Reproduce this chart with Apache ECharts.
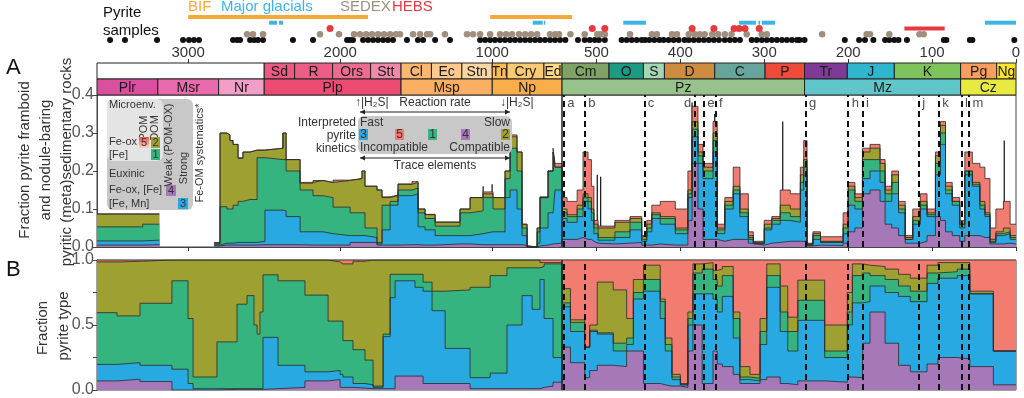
<!DOCTYPE html>
<html>
<head>
<meta charset="utf-8">
<script src="https://cdn.jsdelivr.net/npm/echarts@6/dist/echarts.min.js"></script>
<style>
html, body { margin: 0; padding: 0; background: #fff; }
#chart { width: 1024px; height: 398px; }
</style>
</head>
<body>
<div id="chart"></div>
<script>
// age axis: Precambrian and Phanerozoic are drawn at different scales
var OLDEST = 3600, BREAK = 541;
var PC_SCALE = 0.152, PZ_SCALE = 0.839;
function toX(age) {
    if (age >= BREAK) return (OLDEST - age) * PC_SCALE;
    return (OLDEST - BREAK) * PC_SCALE + (BREAK - age) * PZ_SCALE;
}
function toAge(u) {
    var ub = (OLDEST - BREAK) * PC_SCALE;
    if (u <= ub) return OLDEST - u / PC_SCALE;
    return BREAK - (u - ub) / PZ_SCALE;
}
var X_MAX = toX(0);
var FONT = '"Liberation Sans", Arial, Helvetica, sans-serif';

// tick labels (Ma)
var tickAges = [3000, 2000, 1000, 500, 400, 300, 200, 100, 0];

// geologic time scale
var periodNames = ['', 'Sd', 'R', 'Ors', 'Stt', 'Cl', 'Ec', 'Stn', 'Tn', 'Cry', 'Ed', 'Cm', 'O', 'S', 'D', 'C', 'P', 'Tr', 'J', 'K', 'Pg', 'Ng'];
var periodStart = [3600, 2500, 2300, 2050, 1800, 1600, 1400, 1200, 1000, 903, 660, 541, 485, 444, 419, 359, 299, 252, 201, 145, 66, 23];
var periodEnd = [2500, 2300, 2050, 1800, 1600, 1400, 1200, 1000, 903, 660, 541, 485, 444, 419, 359, 299, 252, 201, 145, 66, 23, 0];
var eraNames = ['Plr', 'Msr', 'Nr', 'Plp', 'Msp', 'Np', 'Pz', 'Mz', 'Cz'];
var eraStart = [3600, 3200, 2800, 2500, 1600, 1000, 541, 252, 66];
var eraEnd = [3200, 2800, 2500, 1600, 1000, 541, 252, 66, 0];

// pyrite samples and deposit records (Ma)
var sampleRows = ['BIF', 'Glacial', 'HEBS', 'SEDEX', 'Pyrite'];
var pyriteSamples = [3514, 3416, 3205, 3034, 2995, 2962, 2929, 2705, 2679, 2659, 2593, 2567, 2541, 2508, 2311, 2179,
    1955, 1936, 1916, 1850, 1817, 1784, 1751, 1718, 1686, 1653, 1561, 1489, 1455, 1376, 1278, 1080, 1047, 1014,
    982, 949, 916, 883, 850, 817, 784, 751, 718, 686, 653, 620, 587, 554,
    537, 522, 514, 508, 502, 497, 490, 470, 464, 458, 452, 446, 442, 437, 431, 425, 420, 414, 408, 402, 395, 390,
    384, 378, 372, 366, 360, 354, 347, 341, 335, 329, 315, 309, 303, 297, 291, 285, 279, 273, 267, 261, 258, 252,
    204, 187, 180, 170, 156, 151, 145, 140, 130, 86, 83, 55, 52, 2];
var sedexSamples = [2613, 2574, 2508, 2133, 2008, 1909, 1870, 1830, 1791, 1751, 1712, 1672, 1633, 1607, 1521, 1475,
    1429, 1409, 1311, 1166, 1126, 1080, 1014, 949, 909, 870, 824, 784, 745, 705, 620, 587, 561, 531, 514, 499, 495,
    490, 460, 434, 428, 410, 404, 390, 383, 377, 371, 362, 355, 347, 339, 321, 303, 297, 231, 178, 174, 151, 115, 110];
var hebsSamples = [2067, 505, 490, 386, 360, 336, 330, 323, 306];
var bifStart = [3000, 1014], bifEnd = [1817, 529];
var glacialStart = [2468, 2403, 734, 661, 468, 330, 307, 303, 37];
var glacialEnd = [2416, 2376, 668, 651, 441, 310, 305, 287, 0];
var hebsStart = [133], hebsEnd = [85];

// events
var eventNames = ['a', 'b', 'c', 'd', 'e', 'f', 'g', 'h', 'i', 'j', 'k', 'l', 'm'];
var eventAges = [539, 514, 443, 383, 372, 358, 251, 200, 183, 116, 92, 65, 56];

// panel A: top of each stacked layer (fraction of rocks); null = no data
var aAge = [3600, 3300, 3190, 3189, 2830, 2791, 2745, 2725, 2705, 2672,
    2640, 2593, 2547, 2495, 2376, 2356, 2264, 2179, 2113, 2047,
    1935, 1857, 1837, 1758, 1725, 1672, 1620, 1528, 1488, 1442,
    1376, 1212, 1146, 1060, 995, 916, 883, 837, 804, 771,
    705, 686, 633, 600, 587, 541, 535, 523, 516, 510,
    506, 503, 498, 478, 460, 446, 440, 434, 424, 406,
    391, 386, 379, 373, 361, 356, 347, 337, 329, 319,
    313, 300, 291, 281, 269, 257, 253, 249, 242, 233,
    206, 200, 192, 183, 174, 162, 156, 148, 140, 132,
    123, 114, 106, 96, 90, 84, 76, 67, 61, 52,
    43, 37, 31, 24, 15, 7, 0];
var aRed = [.087, .087, .087, null, .012, .300, .295, .280, .270, .235,
    .250, .255, .255, .260, .300, .230, .170, .175, .170, .176,
    .180, .200, .160, .150, .132, .137, .166, .172, .100, .086,
    .066, .100, .130, .145, .130, .200, .295, .250, .060, 0,
    .050, .132, .200, .260, .220, .130, .120, .150, .250, .230,
    .160, .070, .055, .070, .080, .030, .070, .110, .120, .100,
    .200, .370, .270, .220, .330, .060, .130, .210, .140, .040,
    .015, .070, .080, .150, .140, .210, .280, .010, .040, .027,
    .090, .170, .140, .260, .270, .230, .160, .200, .120, .030,
    .100, .140, .100, .250, .330, .170, .130, .070, .250, .220,
    .210, .180, .050, .100, .120, .060, .060];
var aOlive = [.087, .087, .087, null, .010, .300, .295, .280, .270, .233,
    .250, .255, .255, .260, .300, .230, .168, .175, .170, .175,
    .180, .200, .160, .150, .130, .135, .165, .170, .100, .085,
    .065, .100, .130, .140, .130, .200, .290, .250, .060, 0,
    .050, .130, .200, .250, .210, .100, .085, .110, .140, .130,
    .100, .060, .050, .065, .075, .027, .060, .090, .080, .050,
    .150, .330, .250, .210, .300, .050, .120, .160, .100, .030,
    .012, .060, .075, .110, .100, .190, .230, .008, .035, .015,
    .060, .160, .130, .250, .260, .220, .150, .190, .110, .025,
    .080, .120, .090, .240, .320, .160, .120, .060, .200, .170,
    .120, .090, .020, .040, .050, .030, .030];
var aGreen = [.053, .060, .060, null, .008, .106, .100, .100, .110, .120,
    .125, .125, .235, .230, .230, .200, .150, .135, .130, .105,
    .090, .090, .050, .012, .110, .120, .150, .155, .090, .075,
    .055, .090, .095, .130, .100, .180, .260, .200, .050, 0,
    .040, .130, .200, .250, .210, .090, .080, .100, .130, .120,
    .090, .050, .025, .040, .065, .020, .050, .085, .075, .045,
    .140, .310, .240, .200, .280, .045, .110, .150, .090, .025,
    .010, .050, .070, .090, .080, .170, .210, .006, .030, .013,
    .050, .150, .120, .230, .230, .200, .140, .170, .100, .020,
    .070, .110, .085, .220, .300, .150, .120, .060, .200, .165,
    .110, .085, .015, .035, .040, .025, .025];
var aBlue = [.016, .018, .018, null, .005, .010, .010, .010, .012, .012,
    .012, .012, .015, .097, .095, .080, .040, .040, .035, .030,
    .030, .030, .025, .008, .045, .110, .135, .140, .053, .045,
    .030, .030, .035, .040, .040, .130, .150, .100, .030, 0,
    .010, .050, .090, .090, .150, .075, .065, .080, .120, .100,
    .070, .035, .018, .025, .045, .015, .040, .075, .060, .035,
    .130, .290, .220, .180, .250, .035, .100, .140, .080, .020,
    .008, .045, .060, .070, .065, .150, .190, .005, .020, .012,
    .035, .110, .100, .180, .200, .170, .120, .140, .090, .020,
    .060, .100, .080, .190, .270, .140, .110, .050, .190, .160,
    .100, .080, .012, .030, .035, .020, .020];
var aPurple = [.005, .006, .006, null, .003, .005, .005, .005, .005, .005,
    .005, .005, .006, .006, .006, .006, .005, .005, .005, .005,
    .012, .012, .012, .005, .005, .005, .006, .006, .005, .005,
    .008, .008, .006, .006, .006, .006, .006, .006, .004, 0,
    .003, .005, .008, .008, .010, .020, .020, .025, .020, .020,
    .015, .010, .008, .010, .012, .005, .005, .008, .005, .005,
    .070, .220, .100, .020, .020, .015, .020, .020, .020, .010,
    .005, .010, .012, .015, .015, .015, .015, .003, .005, .004,
    .010, .040, .050, .140, .150, .120, .060, .050, .030, .010,
    .010, .015, .030, .080, .070, .040, .030, .015, .030, .030,
    .025, .025, .008, .008, .010, .008, .008];

// single-sample spikes in panel A
var spikeAges = [2376, 1060, 1001, 499, 495, 386, 359, 278, 14];
var spikeVals = [.30, .16, .165, .19, .185, .38, .35, .33, .28];

// panel B: top of each stacked layer (fraction of pyrite type)
var bAge = [3600, 3468, 3317, 3107, 3001, 2968, 2811, 2679, 2613, 2567,
    2547, 2528, 2508, 2409, 2232, 2080, 2001, 1982, 1916, 1837,
    1784, 1718, 1672, 1639, 1508, 1455, 1396, 1310, 1146, 1014,
    903, 804, 738, 686, 659, 600, 541, 531, 514, 508,
    499, 480, 464, 456, 444, 424, 418, 410, 400, 391,
    385, 374, 361, 356, 350, 337, 329, 317, 305, 297,
    281, 272, 260, 228, 201, 195, 183, 174, 156, 140,
    126, 106, 93, 70, 55, 27, 0];
var bRed = [1, 1, 1, 1, 1, 1, 1, 1, 1, 1,
    1, 1, 1, 1, 1, 1, 1, 1, 1, 1,
    1, 1, 1, 1, 1, 1, 1, 1, 1, 1,
    1, 1, 1, 1, 1, 1, 1, 1, 1, 1,
    1, 1, 1, 1, 1, 1, 1, 1, 1, 1,
    1, 1, 1, 1, 1, 1, 1, 1, 1, 1,
    1, 1, 1, 1, 1, 1, 1, 1, 1, 1,
    1, 1, 1, 1, 1, 1, 1];
var bOlive = [.985, .990, 1, 1, 1, 1, 1, 1, 1, 1,
    1, 1, 1, 1, 1, .985, .970, .970, .990, 1,
    1, 1, 1, 1, 1, 1, 1, 1, 1, 1,
    1, 1, 1, .980, .980, .980, .780, .540, .330, .500,
    .830, .770, .550, .850, .960, .700, .400, .120, .050, .600,
    .970, .980, .920, .930, .950, .600, .180, .120, .550, .970,
    .800, .560, .845, .500, .750, .970, .960, .950, .930, .890,
    .860, .960, .980, .980, .760, .300, .300];
var bGreen = [.595, .570, .667, .840, .550, .100, .370, .660, .726, .500,
    .430, .600, .886, .840, .730, .530, .530, .380, .310, .230,
    .030, .430, .890, .890, .890, .830, .760, .770, .790, .880,
    .940, .940, .940, .950, .970, .970, .670, .520, .330, .460,
    .440, .360, .400, .750, .850, .680, .350, .100, .040, .550,
    .900, .930, .850, .800, .880, .550, .100, .090, .450, .880,
    .600, .450, .690, .300, .600, .880, .900, .880, .850, .800,
    .760, .900, .910, .930, .740, .300, .300];
var bBlue = [.197, .210, .190, .160, .050, .010, .010, .010, .010, .010,
    .010, .010, .405, .190, .140, .150, .120, .100, .050, .040,
    .020, .410, .710, .840, .790, .760, .610, .320, .095, .130,
    .500, .726, .620, .850, .550, .250, .640, .450, .330, .450,
    .430, .300, .350, .700, .760, .550, .300, .080, .040, .500,
    .740, .740, .700, .600, .720, .400, .080, .070, .350, .790,
    .450, .300, .536, .250, .500, .670, .680, .800, .750, .720,
    .680, .820, .860, .880, .740, .300, .300];
var bPurple = [.070, .083, .065, 0, 0, 0, .005, .005, .005, .005,
    .005, .005, .010, .020, .070, .080, .020, .020, .015, .010,
    .010, .010, .010, .107, .107, .050, .050, .050, .010, .010,
    .010, .010, .010, .020, .030, .060, .330, .210, .095, .150,
    .190, .180, .300, .300, .050, .040, .030, .030, .020, .300,
    .500, .050, .300, .200, .180, .120, .050, .050, .080, .100,
    .050, .040, .070, .060, .100, .095, .360, .600, .360, .190,
    .140, .200, .250, .240, .180, .040, .040];

// colours
var C_PURPLE = '#A678B8', C_BLUE = '#29A9E1', C_GREEN = '#36B47F', C_OLIVE = '#9FA032', C_RED = '#F27C6F';
var scaleColors = {
    '': '#ffffff', Sd: '#EA5A83', R: '#EB5F86', Ors: '#ED6B8F', Stt: '#F08AAA',
    Cl: '#FDB66E', Ec: '#FDC98E', Stn: '#FDD7A3', Tn: '#FDBA58', Cry: '#FDC973', Ed: '#FDD982',
    Cm: '#7FA364', O: '#1D9A83', S: '#A4D7B4', D: '#CD8C40', C: '#67A59A', P: '#EF4A3A',
    Tr: '#7F3A97', J: '#2FB5CE', K: '#7FC35D', Pg: '#FA9E5F', Ng: '#FFE52A',
    Plr: '#DA4F9E', Msr: '#EA6AAE', Nr: '#F29EC6', Plp: '#EC4B74', Msp: '#FBAF62', Np: '#FAAD4B',
    Pz: '#97C28C', Mz: '#5FC6CA', Cz: '#E9EA41'
};

// ---------- series builders ----------
function areaSeries(name, ages, vals, color, idx, extra) {
    var data = [];
    for (var i = 0; i < ages.length; i++) {
        data.push([toX(ages[i]), vals[i]]);
    }
    var s = {
        name: name, type: 'line', xAxisIndex: idx, yAxisIndex: idx, step: 'end',
        symbol: 'none', connectNulls: false, data: data,
        lineStyle: { color: '#2a2a2a', width: 0.8 },
        areaStyle: { color: color, opacity: 1 }
    };
    if (extra) s.markLine = extra;
    return s;
}

function scaleSeries(names, starts, ends, row) {
    var data = [];
    for (var i = 0; i < names.length; i++) data.push([toX(starts[i]), toX(ends[i]), row]);
    return {
        type: 'custom', xAxisIndex: 1, yAxisIndex: 1, data: data, silent: true,
        encode: { x: [0, 1], y: 2 },
        renderItem: function(params, api) {
            var p0 = api.coord([api.value(0), row]);
            var p1 = api.coord([api.value(1), row + 1]);
            var nm = names[params.dataIndex];
            return {
                type: 'group',
                children: [{
                    type: 'rect',
                    shape: { x: p0[0], y: p0[1], width: p1[0] - p0[0], height: p1[1] - p0[1] },
                    style: { fill: scaleColors[nm], stroke: '#222', lineWidth: 1 }
                }, {
                    type: 'text',
                    style: {
                        text: nm, x: (p0[0] + p1[0]) / 2, y: (p0[1] + p1[1]) / 2 + 1,
                        align: 'center', verticalAlign: 'middle',
                        fontSize: 14, fontFamily: FONT, fill: '#1a1a1a'
                    }
                }]
            };
        }
    };
}

function intervalSeries(starts, ends, row, color) {
    var data = [];
    for (var i = 0; i < starts.length; i++) data.push([toX(starts[i]), toX(ends[i]), row]);
    return {
        type: 'custom', xAxisIndex: 0, yAxisIndex: 0, data: data, silent: true,
        encode: { x: [0, 1] },
        renderItem: function(params, api) {
            var p0 = api.coord([api.value(0), row]);
            var p1 = api.coord([api.value(1), row]);
            return {
                type: 'rect',
                shape: { x: p0[0], y: p0[1] - 2, width: p1[0] - p0[0], height: 4 },
                style: { fill: color }
            };
        }
    };
}

function dotSeries(ages, row, color, size) {
    return {
        type: 'scatter', xAxisIndex: 0, yAxisIndex: 0, symbolSize: size, silent: true,
        itemStyle: { color: color, opacity: 1 },
        data: ages.map(function(a) { return [toX(a), row]; })
    };
}

// event dashed lines + Precambrian/Phanerozoic boundary
function eventMarks() {
    var d = eventAges.map(function(a) { return { xAxis: toX(a) }; });
    d.push({ xAxis: toX(BREAK), lineStyle: { type: 'solid', width: 1.5, color: '#222' } });
    return {
        silent: true, symbol: ['none', 'none'], label: { show: false },
        lineStyle: { type: [6, 4], width: 2, color: '#111' },
        data: d
    };
}

// ---------- graphic (legend boxes, titles) ----------
function txt(x, y, s, opt) {
    opt = opt || {};
    return {
        type: 'text', x: x, y: y, rotation: opt.rot || 0, z: 100, silent: true,
        style: {
            text: s, fill: opt.color || '#333', fontSize: opt.size || 12, fontFamily: FONT,
            align: opt.align || 'left', verticalAlign: 'middle'
        }
    };
}
function box(x, y, w, h, fill, r) {
    return { type: 'rect', z: 99, silent: true, shape: { x: x, y: y, width: w, height: h, r: r || 0 }, style: { fill: fill } };
}
function arrow(x1, x2, y) {
    return [
        { type: 'line', z: 100, silent: true, shape: { x1: x1, y1: y, x2: x2, y2: y }, style: { stroke: '#222', lineWidth: 1 } },
        { type: 'polygon', z: 100, silent: true, shape: { points: [[x1, y], [x1 + 5, y - 2.5], [x1 + 5, y + 2.5]] }, style: { fill: '#222' } },
        { type: 'polygon', z: 100, silent: true, shape: { points: [[x2, y], [x2 - 5, y - 2.5], [x2 - 5, y + 2.5]] }, style: { fill: '#222' } }
    ];
}

var g = [];
function numSq(x, y, w, h, fill, n, size) {
    g.push({ type: 'rect', z: 100, silent: true, shape: { x: x, y: y, width: w, height: h }, style: { fill: fill } });
    g.push(txt(x + w / 2, y + h / 2 + 0.5, n, { align: 'center', color: '#333', size: size || 12 }));
}

var ROT = Math.PI / 2;
g.push(txt(6, 68, 'A', { size: 22, color: '#111' }));
g.push(txt(6, 270, 'B', { size: 22, color: '#111' }));
g.push(txt(188, 7, 'BIF', { size: 15, color: '#F6A93B' }));
g.push(txt(221, 7, 'Major glacials', { size: 15, color: '#3CB5E5' }));
g.push(txt(340, 7, 'SEDEX', { size: 15, color: '#A08E7E' }));
g.push(txt(392, 7, 'HEBS', { size: 15, color: '#E4393F' }));
g.push(txt(103, 13, 'Pyrite', { size: 15, color: '#111' }));
g.push(txt(103, 31, 'samples', { size: 15, color: '#111' }));

g.push(txt(25, 160, 'Fraction pyrite framboid', { size: 15, rot: ROT, align: 'center' }));
g.push(txt(46, 160, 'and nodule-baring', { size: 15, rot: ROT, align: 'center' }));
g.push(txt(67, 162, 'pyritic (meta)sedimentary rocks', { size: 15, rot: ROT, align: 'center' }));
g.push(txt(43, 328, 'Fraction', { size: 15, rot: ROT, align: 'center' }));
g.push(txt(64, 326, 'pyrite type', { size: 15, rot: ROT, align: 'center' }));

// Fe-OM systematics inset
g.push(box(107, 99, 86, 111, '#C8C8C8', 6));
g.push(box(107, 99, 56, 62, '#E4E4E4', 6));
g.push(txt(109, 105, 'Microenv.', { size: 11 }));
g.push(txt(144, 128, 'POM', { size: 11, rot: ROT, align: 'center' }));
g.push(txt(155, 128, 'DOM', { size: 11, rot: ROT, align: 'center' }));
g.push(txt(109, 142, 'Fe-ox', { size: 11 }));
g.push(txt(109, 155, '[Fe]', { size: 11 }));
numSq(139, 137, 10, 11, {
    type: 'linear', x: 0, y: 0, x2: 0, y2: 1,
    colorStops: [{ offset: 0, color: '#F0563C' }, { offset: 1, color: '#F9D0C8' }]
}, '5', 11);
numSq(151, 137, 9, 11, C_OLIVE, '2', 11);
numSq(151, 149, 9, 11, C_GREEN, '1', 11);
g.push(txt(109, 174, 'Euxinic', { size: 11 }));
g.push(txt(109, 190, 'Fe-ox, [Fe]', { size: 11 }));
g.push(txt(109, 204, '[Fe, Mn]', { size: 11 }));
numSq(166, 185, 10, 11, C_PURPLE, '4', 11);
numSq(178, 198, 10, 11, C_BLUE, '3', 11);
g.push(txt(169, 145, 'Weak (POM-OX)', { size: 11, rot: ROT, align: 'center' }));
g.push(txt(184, 168, 'Strong', { size: 11, rot: ROT, align: 'center' }));
g.push(txt(200, 153, 'Fe-OM systematics*', { size: 11, rot: ROT, align: 'center' }));

// pyrite kinetics inset
g.push(txt(355, 103, '\u2191|H\u2082S|'));
g.push(txt(435, 103, 'Reaction rate', { align: 'center' }));
g.push(txt(500, 103, '\u2193|H\u2082S|'));
g = g.concat(arrow(360, 510, 112));
g.push(box(358, 116, 154, 38, '#C8C8C8', 6));
g.push(txt(360, 123, 'Fast'));
g.push(txt(510, 123, 'Slow', { align: 'right' }));
g.push(txt(356, 123, 'Interpreted', { align: 'right' }));
g.push(txt(356, 136, 'pyrite', { align: 'right' }));
g.push(txt(356, 149, 'kinetics', { align: 'right' }));
numSq(359, 129, 9, 11, C_BLUE, '3');
numSq(395, 129, 9, 11, C_RED, '5');
numSq(428, 129, 9, 11, C_GREEN, '1');
numSq(461, 129, 9, 11, C_PURPLE, '4');
numSq(501, 129, 9, 11, C_OLIVE, '2');
g.push(txt(360, 148, 'Incompatible'));
g.push(txt(510, 148, 'Compatible', { align: 'right' }));
g = g.concat(arrow(360, 510, 158));
g.push(txt(435, 166, 'Trace elements', { align: 'center' }));

// ---------- chart ----------
var tickU = tickAges.map(toX);
var chart = echarts.init(document.getElementById('chart'));

var option = {
    animation: false,
    textStyle: { fontFamily: FONT },
    grid: [
        { left: 97, right: 8, top: 14, height: 29 },
        { left: 97, right: 8, top: 63, height: 32 },
        { left: 97, right: 8, top: 95, height: 152, show: true, borderColor: '#444', borderWidth: 1 },
        { left: 97, right: 8, top: 260, height: 140, show: true, borderColor: '#444', borderWidth: 1 }
    ],
    xAxis: [
        { gridIndex: 0, type: 'value', min: 0, max: X_MAX, show: false },
        {
            gridIndex: 1, type: 'value', min: 0, max: X_MAX, position: 'top',
            axisLine: { show: false }, splitLine: { show: false },
            axisTick: { show: true, customValues: tickU, length: 4, lineStyle: { color: '#333' } },
            axisLabel: {
                customValues: tickU, margin: 3, fontSize: 15, color: '#333',
                formatter: function(v) { return String(Math.round(toAge(v))); }
            }
        },
        {
            gridIndex: 2, type: 'value', min: 0, max: X_MAX, position: 'bottom',
            axisLine: { show: true, lineStyle: { color: '#444' } }, splitLine: { show: false },
            axisTick: { show: true, customValues: tickU, length: 4, lineStyle: { color: '#333' } },
            axisLabel: { show: false }
        },
        {
            gridIndex: 3, type: 'value', min: 0, max: X_MAX,
            axisLine: { show: false }, axisTick: { show: false }, axisLabel: { show: false }, splitLine: { show: false }
        }
    ],
    yAxis: [
        { gridIndex: 0, type: 'category', data: sampleRows, inverse: true, show: false },
        { gridIndex: 1, type: 'value', min: 0, max: 2, inverse: true, show: false },
        {
            gridIndex: 2, type: 'value', min: 0, max: 0.4, interval: 0.1, splitLine: { show: false },
            axisLine: { show: true, lineStyle: { color: '#444' } },
            axisTick: { show: true, length: 4, lineStyle: { color: '#444' } },
            axisLabel: { fontSize: 16, color: '#555', margin: 3, formatter: function(v) { return v.toFixed(1); } }
        },
        {
            gridIndex: 3, type: 'value', min: 0, max: 1, interval: 0.25, splitLine: { show: false },
            axisLine: { show: true, lineStyle: { color: '#444' } },
            axisTick: { show: true, length: 4, lineStyle: { color: '#444' } },
            axisLabel: {
                fontSize: 16, color: '#555', margin: 3,
                formatter: function(v) { return (v * 2) % 1 === 0 ? v.toFixed(1) : ''; }
            }
        }
    ],
    graphic: { elements: g },
    series: [
        // samples strip
        intervalSeries(bifStart, bifEnd, 0, '#F6A93B'),
        intervalSeries(glacialStart, glacialEnd, 1, '#3CB5E5'),
        intervalSeries(hebsStart, hebsEnd, 2, '#E4393F'),
        dotSeries(pyriteSamples, 4, '#111', 6),
        dotSeries(sedexSamples, 3, '#A08E7E', 6.5),
        dotSeries(hebsSamples, 2, '#E63B3E', 7),
        // time scale
        scaleSeries(periodNames, periodStart, periodEnd, 0),
        scaleSeries(eraNames, eraStart, eraEnd, 1),
        // panel A
        areaSeries('5', aAge, aRed, C_RED, 2),
        areaSeries('2', aAge, aOlive, C_OLIVE, 2),
        areaSeries('1', aAge, aGreen, C_GREEN, 2),
        areaSeries('3', aAge, aBlue, C_BLUE, 2),
        areaSeries('4', aAge, aPurple, C_PURPLE, 2, eventMarks()),
        {
            type: 'custom', xAxisIndex: 2, yAxisIndex: 2, silent: true,
            data: spikeAges.map(function(a, i) { return [toX(a), spikeVals[i]]; }),
            renderItem: function(params, api) {
                var p0 = api.coord([api.value(0), 0]);
                var p1 = api.coord([api.value(0), api.value(1)]);
                return { type: 'line', shape: { x1: p0[0], y1: p0[1], x2: p1[0], y2: p1[1] }, style: { stroke: '#222', lineWidth: 1.3 } };
            }
        },
        {
            type: 'scatter', xAxisIndex: 2, yAxisIndex: 2, symbolSize: 1, silent: true,
            itemStyle: { color: 'rgba(0,0,0,0)' },
            data: eventAges.map(function(a, i) {
                return { value: [toX(a), 0.378], label: { position: eventNames[i] === 'd' ? 'left' : 'right' } };
            }),
            label: {
                show: true, distance: 3, fontSize: 13, color: '#222',
                formatter: function(p) { return eventNames[p.dataIndex]; }
            }
        },
        // panel B
        areaSeries('5', bAge, bRed, C_RED, 3),
        areaSeries('2', bAge, bOlive, C_OLIVE, 3),
        areaSeries('1', bAge, bGreen, C_GREEN, 3),
        areaSeries('3', bAge, bBlue, C_BLUE, 3),
        areaSeries('4', bAge, bPurple, C_PURPLE, 3, eventMarks())
    ]
};
chart.setOption(option);
</script>
</body>
</html>
